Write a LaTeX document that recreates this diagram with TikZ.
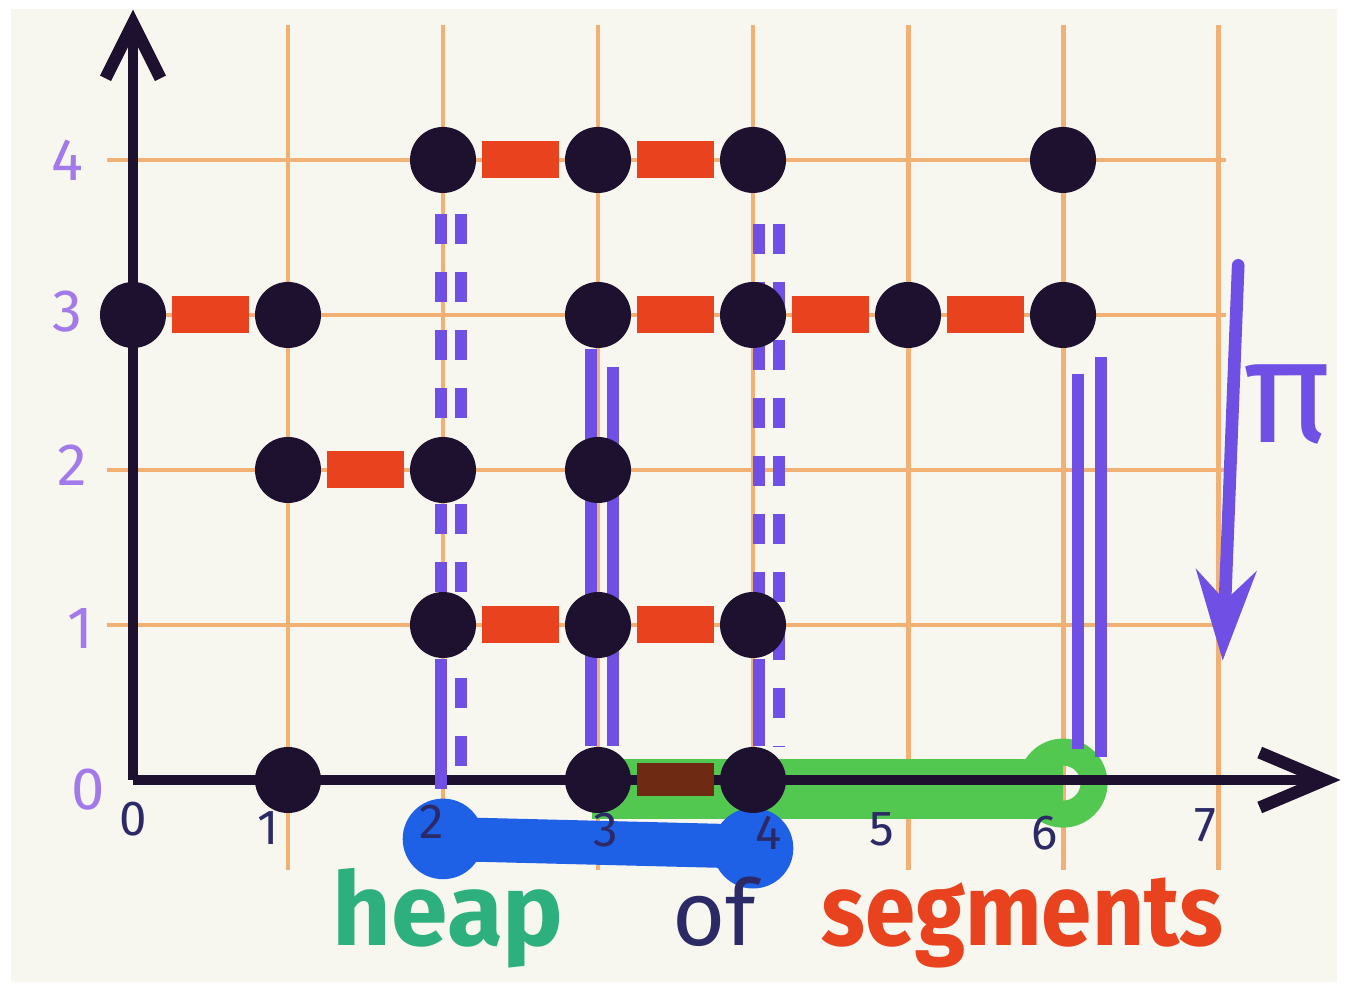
\documentclass[tikz,border=0pt]{standalone}
\usepackage{fontspec}
\setsansfont{Fira Sans}
\usetikzlibrary{arrows.meta,backgrounds}
\definecolor{paper}{HTML}{F7F6EF}
\definecolor{gridorange}{HTML}{F2B174}
\definecolor{ink}{HTML}{1E1130}
\definecolor{segred}{HTML}{E8421E}
\definecolor{segbrown}{HTML}{6E2A12}
\definecolor{projviolet}{HTML}{7050E4}
\definecolor{tickviolet}{HTML}{A27AEA}
\definecolor{labelnavy}{HTML}{2C2A66}
\definecolor{heapblue}{HTML}{1E60E6}
\definecolor{heapgreen}{HTML}{52C850}
\definecolor{wordteal}{HTML}{2DB07E}

\begin{document}
\begin{tikzpicture}[x=1.55cm,y=1.55cm,line cap=round,font=\sffamily,
  dot/.style={circle,fill=ink,inner sep=0pt,minimum size=0.66cm},
  seg/.style={draw=segred,line width=0.37cm,line cap=butt,shorten <=1.5pt,shorten >=1.5pt},
  proj/.style={draw=projviolet,line width=3.2pt},
  projdash/.style={proj,dash pattern=on 0.3cm off 0.28cm},
  gridline/.style={gridorange,line width=1.4pt},
  ytick/.style={text=tickviolet,font=\sffamily\fontsize{17}{17}\selectfont},
  xtick/.style={text=labelnavy,font=\sffamily\fontsize{14}{14}\selectfont},
  word/.style={anchor=base west,font=\sffamily\bfseries\fontsize{29}{29}\selectfont}]
\useasboundingbox (-0.858,-1.361) rectangle (7.832,5.032);

% points of the heap
\foreach \x/\y in {0/3,1/3,1/2,2/2,2/4,3/4,4/4,3/3,4/3,5/3,6/3,6/4,2/1,3/1,4/1,3/2,1/0,3/0,4/0}
  \node[dot] (p\x\y) at (\x,\y) {};

% segments
\foreach \a/\b in {03/13,12/22,24/34,34/44,33/43,43/53,53/63,21/31,31/41}
  \draw[seg] (p\a) -- (p\b);
\draw[seg,draw=segbrown,line width=0.33cm] (p30) -- (p40);

\coordinate (o) at (0,0);
\coordinate (ytop) at (0,4.97);
\coordinate (xend) at (7.79,0);
\coordinate (a2) at (2,-0.06);
\coordinate (a6l) at (6,0.2);
\coordinate (a6r) at (6,0.15);
\coordinate (pitop) at (7.13,3.32);
\coordinate (pibot) at (7.03,0.77);

\begin{scope}[on background layer]
\fill[white] (-0.858,-1.361) rectangle (7.832,5.032);
\fill[paper] (-0.79,-1.30) rectangle (7.77,4.975);
% grid
\foreach \x in {1,...,7}
  \draw[gridline] (\x,4.87) -- (\x,-0.58);
\foreach \y in {1,...,4}
  \draw[gridline] (-0.17,\y) -- (7.05,\y);
% projection onto the axis
\draw[heapgreen,line width=0.6cm] (2.96,-0.06) -- (6,-0.06);
\draw[heapgreen,line width=0.27cm] (6,-0.02) circle (0.2);
\draw[heapblue,line width=0.44cm,line cap=butt] (2,-0.38) -- (4,-0.43);
\fill[heapblue] (2,-0.38) circle (0.26);
\fill[heapblue] (4,-0.44) circle (0.26);
% axes
\draw[ink,line width=3pt,-{Straight Barb[length=0.55cm,width=0.55cm,line width=3.5pt]}] (o) -- (ytop);
\draw[ink,line width=3pt,-{Straight Barb[length=0.65cm,width=0.55cm,line width=3.5pt]}] (o) -- (xend);
% vertical projections
\draw[projdash,shorten <=0.2cm] ([xshift=-0.02cm]p24.south) -- ([xshift=-0.02cm]p21.center);
\draw[proj] ([xshift=-0.02cm]p21.south) -- ([xshift=-0.02cm]a2);
\draw[projdash,shorten <=0.2cm] ([xshift=0.18cm]p24.south) -- ([xshift=0.18cm]a2);
\draw[proj] ([xshift=-0.07cm]p33.south) -- ([xshift=-0.07cm]p30.north);
\draw[proj,shorten <=0.18cm] ([xshift=0.15cm]p33.south) -- ([xshift=0.15cm]p30.north);
\draw[projdash,shorten <=0.3cm] ([xshift=0.06cm]p44.south) -- ([xshift=0.06cm]p41.center);
\draw[proj] ([xshift=0.06cm]p41.south) -- ([xshift=0.06cm]p40.north);
\draw[projdash,shorten <=0.3cm] ([xshift=0.26cm]p44.south) -- ([xshift=0.26cm]p40.north);
\draw[proj,shorten <=0.25cm] ([xshift=0.15cm]p63.south) -- ([xshift=0.15cm]a6l);
\draw[proj,shorten <=0.08cm] ([xshift=0.38cm]p63.south) -- ([xshift=0.38cm]a6r);
\end{scope}

% the map pi
\draw[projviolet,line width=3.6pt,-{Stealth[length=0.9cm,width=0.6cm,inset=0.3cm]}] (pitop) -- (pibot);
\node[text=projviolet,font=\sffamily\fontsize{42}{42}\selectfont] (pilabel) at (7.45,2.42) {π};

% tick labels
\foreach \i/\px/\py in {0/-0.29/-0.06,1/-0.34/0.98,2/-0.39/2.03,3/-0.42/3.02,4/-0.42/4.0}
  \node[ytick] (yl\i) at (\px,\py) {\i};
\foreach \i/\px/\py in {0/0/-0.25,1/0.87/-0.31,2/1.93/-0.27,3/3.05/-0.32,4/4.1/-0.34,5/4.83/-0.32,6/5.88/-0.34,7/6.92/-0.29}
  \node[xtick] (xl\i) at (\px,\py) {\i};

% caption
\node[word,text=wordteal] (wheap) at (1.21,-1.065) {heap};
\node[word,text=labelnavy,font=\sffamily\fontsize{26}{26}\selectfont] (wof) at (3.4,-1.065) {of};
\node[word,text=segred,xscale=0.89] (wseg) at (4.37,-1.065) {segments};
\end{tikzpicture}
\end{document}
